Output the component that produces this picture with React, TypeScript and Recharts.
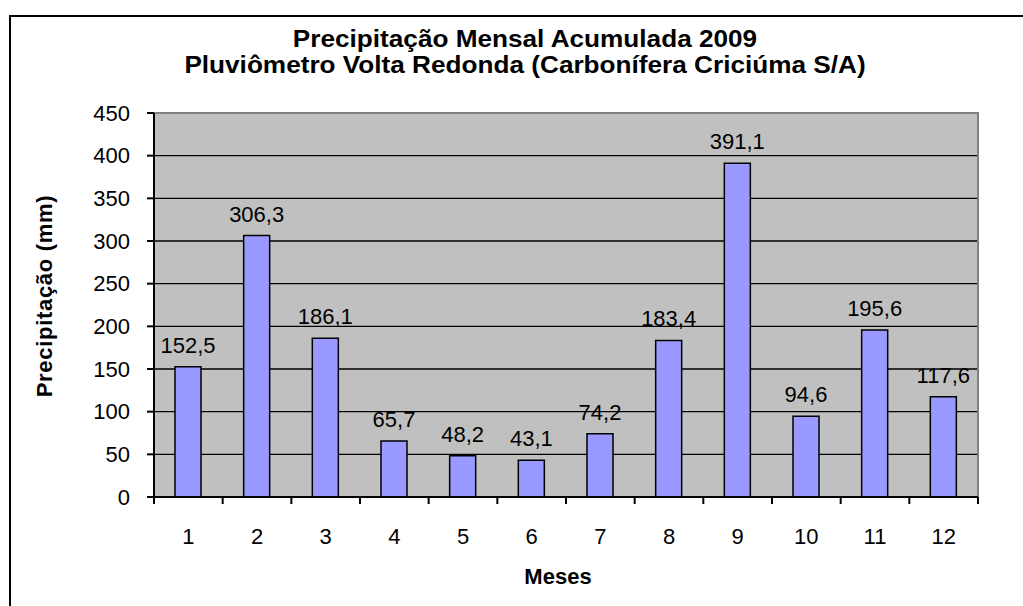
import React from 'react';
import {
  BarChart, Bar, XAxis, YAxis, CartesianGrid, LabelList, ReferenceArea
} from 'recharts';

// Precipitação mensal 2009 (mm)
const meses = [1, 2, 3, 4, 5, 6, 7, 8, 9, 10, 11, 12];
const precipitacao = [152.5, 306.3, 186.1, 65.7, 48.2, 43.1, 74.2, 183.4, 391.1, 94.6, 195.6, 117.6];
const yTicks = [0, 50, 100, 150, 200, 250, 300, 350, 400, 450];
const gridValues = [50, 100, 150, 200, 250, 300, 350, 400];
// category boundaries (tick marks) + centers (labels)
const xBounds = [0.5, 1.5, 2.5, 3.5, 4.5, 5.5, 6.5, 7.5, 8.5, 9.5, 10.5, 11.5, 12.5];

const data = meses.map((m, i) => ({ mes: m, valor: precipitacao[i] }));
const xTicks = [...xBounds, ...meses].sort((a, b) => a - b);

const FONT = '"Liberation Sans", Arial, sans-serif';

const XTick = ({ x, y, payload }: any) => {
  const v = payload.value;
  if (!Number.isInteger(v)) {
    return <line x1={x} x2={x} y1={y} y2={y + 7} stroke="#000" strokeWidth={2} />;
  }
  return (
    <text x={x} y={y + 47} textAnchor="middle" fill="#000" fontSize={22} fontFamily={FONT}>
      {v}
    </text>
  );
};

const fmt = (v: any) => Number(v).toFixed(1).replace('.', ',');

export default function App() {
  return (
    <div style={{ position: 'absolute', left: 0, top: 0, width: 1023, height: 606, background: '#fff', fontFamily: FONT }}>
      <div style={{ position: 'absolute', left: 9, top: 15, right: 0, bottom: 0, borderLeft: '2px solid #000', borderTop: '2px solid #000' }} />
      <div style={{ position: 'absolute', left: 175, top: 26, width: 700, textAlign: 'center', fontWeight: 'bold', fontSize: 24, lineHeight: '26px', color: '#000', transform: 'scaleX(1.09)', whiteSpace: 'nowrap' }}>
        <div>Precipitação Mensal Acumulada 2009</div>
        <div>Pluviômetro Volta Redonda (Carbonífera Criciúma S/A)</div>
      </div>
      <div style={{ position: 'absolute', left: 45 - 150, top: 296 - 12, width: 300, height: 24, lineHeight: '24px', textAlign: 'center', fontWeight: 'bold', fontSize: 22, letterSpacing: 0.7, transform: 'rotate(-90deg)', color: '#000' }}>
        Precipitação (mm)
      </div>
      <div style={{ position: 'absolute', left: 458, top: 566, width: 200, textAlign: 'center', fontWeight: 'bold', fontSize: 22, lineHeight: '22px', color: '#000' }}>
        Meses
      </div>
      <div style={{ position: 'absolute', left: 0, top: 0 }}>
        <BarChart width={1023} height={606} data={data} margin={{ top: 113, right: 45, bottom: 49, left: 0 }}>
          <CartesianGrid
            fill="#C0C0C0"
            vertical={false}
            horizontalValues={gridValues}
            stroke="#000"
            strokeWidth={1.3}
          />
          <ReferenceArea x1={0.5} x2={12.5} y1={0} y2={450} fill="none" stroke="#808080" strokeWidth={2} />
          <XAxis
            dataKey="mes"
            type="number"
            domain={[0.5, 12.5]}
            ticks={xTicks}
            interval={0}
            height={60}
            tickLine={false}
            tickSize={0}
            tickMargin={0}
            axisLine={{ stroke: '#000', strokeWidth: 2 }}
            tick={<XTick />}
          />
          <YAxis
            domain={[0, 450]}
            ticks={yTicks}
            width={154}
            interval={0}
            tickSize={7}
            tickMargin={17}
            tickLine={{ stroke: '#000', strokeWidth: 2 }}
            axisLine={{ stroke: '#000', strokeWidth: 2 }}
            tick={{ fill: '#000', fontSize: 22, fontFamily: FONT }}
          />
          <Bar dataKey="valor" fill="#9999FF" stroke="#000" strokeWidth={1.5} barSize={26} isAnimationActive={false}>
            <LabelList dataKey="valor" position="top" offset={14} formatter={fmt} fill="#000" fontSize={22} fontFamily={FONT} />
          </Bar>
        </BarChart>
      </div>
    </div>
  );
}
